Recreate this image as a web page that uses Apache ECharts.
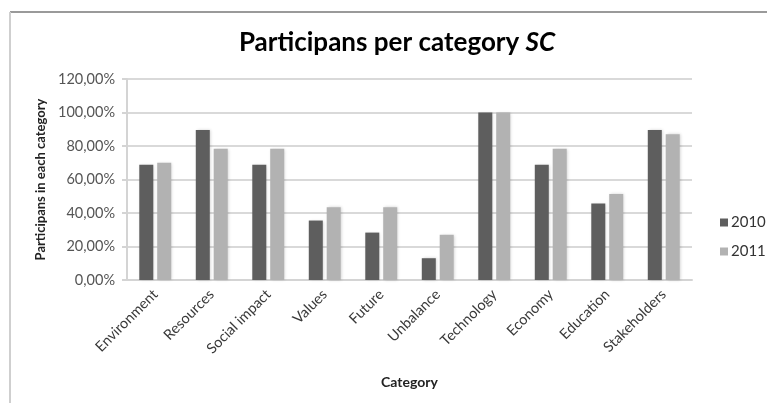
<!DOCTYPE html>
<html>
<head>
<meta charset="utf-8">
<script src="https://cdn.jsdelivr.net/npm/echarts@6/dist/echarts.min.js"></script>
<style>
  html, body { margin: 0; padding: 0; background: #fff; }
  #chart { width: 767px; height: 403px; }
</style>
</head>
<body>
<div id="chart"></div>
<script>
// Share of participants per category (percent)
const categories = ['Environment', 'Resources', 'Social impact', 'Values', 'Future',
  'Unbalance', 'Technology', 'Economy', 'Education', 'Stakeholders'];
const values2010 = [68.75, 89.5, 68.75, 35.5, 28.3, 13.0, 100, 68.75, 45.6, 89.5];
const values2011 = [70.0, 78.3, 78.3, 43.5, 43.5, 27.0, 100, 78.3, 51.3, 87.0];
const seriesNames = ['2010', '2011'];
const yTicks = { min: 0, max: 120, interval: 20 };

const font = 'Lato, "Open Sans", sans-serif';
const chart = echarts.init(document.getElementById('chart'));

const barStyle = (color) => ({
  color: color,
  shadowColor: 'rgba(0,0,0,0.18)',
  shadowBlur: 3,
  shadowOffsetX: 1,
  shadowOffsetY: 0
});

chart.setOption({
  animation: false,
  backgroundColor: '#fff',
  title: {
    text: 'Participans per category {i|SC}',
    top: 25,
    left: 392,
    textAlign: 'center',
    textStyle: {
      fontFamily: font,
      fontSize: 26,
      fontWeight: 'bold',
      color: '#000',
      rich: {
        i: { fontFamily: font, fontSize: 26, fontWeight: 'bold', fontStyle: 'italic', color: '#000' }
      }
    }
  },
  legend: {
    orient: 'vertical',
    left: 715,
    top: 210,
    itemWidth: 8,
    itemHeight: 8,
    itemGap: 14,
    icon: 'rect',
    textStyle: { fontFamily: font, fontSize: 15, color: '#333', padding: [0, 0, 0, -2] },
    data: seriesNames
  },
  grid: {
    left: 127,
    right: 75,
    top: 79,
    bottom: 123,
    containLabel: false
  },
  xAxis: {
    type: 'category',
    data: categories,
    name: 'Category',
    nameLocation: 'middle',
    nameGap: 95,
    nameTextStyle: { fontFamily: font, fontSize: 14, fontWeight: 'bold', color: '#222' },
    axisLine: { lineStyle: { color: '#d4d4d4', width: 2 } },
    axisTick: { show: false },
    axisLabel: {
      rotate: 45,
      interval: 0,
      margin: 12,
      fontFamily: font,
      fontSize: 14.5,
      color: '#3a3a3a'
    }
  },
  yAxis: {
    type: 'value',
    min: yTicks.min,
    max: yTicks.max,
    interval: yTicks.interval,
    name: 'Participans in each category',
    nameLocation: 'middle',
    nameGap: 77,
    nameRotate: 90,
    nameTextStyle: { fontFamily: font, fontSize: 13, fontWeight: 'bold', color: '#222' },
    axisLine: { show: true, lineStyle: { color: '#d4d4d4', width: 2 } },
    axisTick: { show: true, length: 5, inside: false, lineStyle: { color: '#d4d4d4', width: 2 } },
    splitLine: { lineStyle: { color: '#d9d9d9', width: 2 } },
    axisLabel: {
      fontFamily: font,
      fontSize: 14.5,
      color: '#555',
      margin: 12,
      formatter: (v) => v.toFixed(2).replace('.', ',') + '%'
    }
  },
  series: [
    {
      name: seriesNames[0],
      type: 'bar',
      data: values2010,
      barWidth: 14,
      barGap: '28%',
      itemStyle: barStyle('#5e5e5e')
    },
    {
      name: seriesNames[1],
      type: 'bar',
      data: values2011,
      barWidth: 14,
      itemStyle: barStyle('#b2b2b2')
    }
  ],
  graphic: [
    { type: 'line', shape: { x1: 10, y1: 12, x2: 767, y2: 12 }, style: { stroke: '#9a9a9a', lineWidth: 2 } },
    { type: 'line', shape: { x1: 10, y1: 12, x2: 10, y2: 403 }, style: { stroke: '#cfcfcf', lineWidth: 2 } }
  ]
});
</script>
</body>
</html>
